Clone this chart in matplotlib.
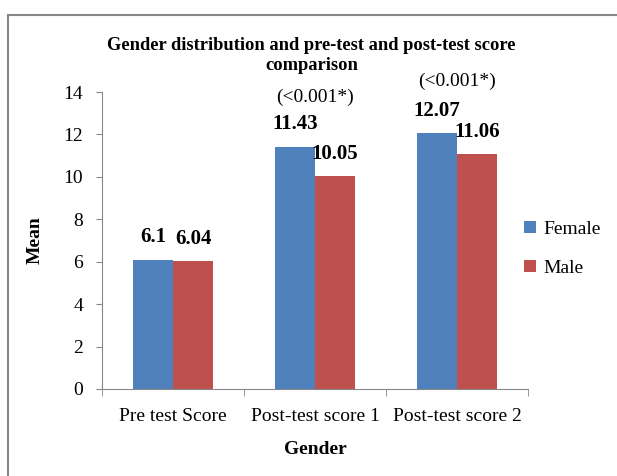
import matplotlib.pyplot as plt
from matplotlib.patches import Rectangle
import numpy as np

plt.rcParams['font.family'] = ['Liberation Serif', 'DejaVu Serif']

categories = ['Pre test Score', 'Post-test score 1', 'Post-test score 2']
female = [6.1, 11.43, 12.07]
male = [6.04, 10.05, 11.06]
female_labels = ['6.1', '11.43', '12.07']
male_labels = ['6.04', '10.05', '11.06']
p_values = ['', '(<0.001*)', '(<0.001*)']
p_heights = [None, 13.75, 14.5]

BLUE = '#4F81BD'
RED = '#C0504D'
GREY = '#888888'

fig = plt.figure(figsize=(6.17, 4.76), dpi=100)
fig.patches.append(Rectangle((8 / 617, -0.05), 1.1, 1 - 15 / 476 + 0.05,
                             transform=fig.transFigure, fill=False,
                             edgecolor=GREY, linewidth=1.5))
ax = fig.add_axes([0.1653, 0.1828, 0.6904, 0.6239])

x = np.arange(len(categories))
w = 0.283
b1 = ax.bar(x - w / 2, female, w, color=BLUE, label='Female')
b2 = ax.bar(x + w / 2, male, w, color=RED, label='Male')

for bars, labs in ((b1, female_labels), (b2, male_labels)):
    for bar, lab in zip(bars, labs):
        ax.annotate(lab, (bar.get_x() + bar.get_width() / 2, bar.get_height()),
                    xytext=(0, 16), textcoords='offset points', ha='center',
                    va='center', fontsize=15, fontweight='bold')

for xi, txt, h in zip(x, p_values, p_heights):
    if txt:
        ax.text(xi, h, txt, ha='center', va='center', fontsize=14, clip_on=False)

ax.set_xlim(-0.5, 2.5)
ax.set_ylim(0, 14)
ax.set_yticks(range(0, 15, 2))
ax.set_xticks(x)
ax.set_xticklabels(categories, fontsize=14)
ax.set_xticks([-0.5, 0.5, 1.5, 2.5], minor=True)
ax.tick_params(axis='x', which='major', length=0, pad=14)
ax.tick_params(axis='x', which='minor', length=5, color=GREY, direction='out')
ax.tick_params(axis='y', labelsize=14, length=4.5, color=GREY, pad=9)
for s in ['top', 'right']:
    ax.spines[s].set_visible(False)
for s in ['left', 'bottom']:
    ax.spines[s].set_color(GREY)

ax.set_xlabel('Gender', fontsize=14, fontweight='bold', labelpad=11)
ax.set_ylabel('Mean', fontsize=14, fontweight='bold', labelpad=14)

fig.text(0.505, 0.883, 'Gender distribution and pre-test and post-test score\ncomparison',
         ha='center', va='center', fontsize=13.3, fontweight='bold', linespacing=1.2)

ax.legend(loc='center left', bbox_to_anchor=(0.95, 0.472), frameon=False,
          fontsize=14, handlelength=0.6, handleheight=0.6, handletextpad=0.4,
          labelspacing=1.15)

fig.savefig('out.png', dpi=100)
